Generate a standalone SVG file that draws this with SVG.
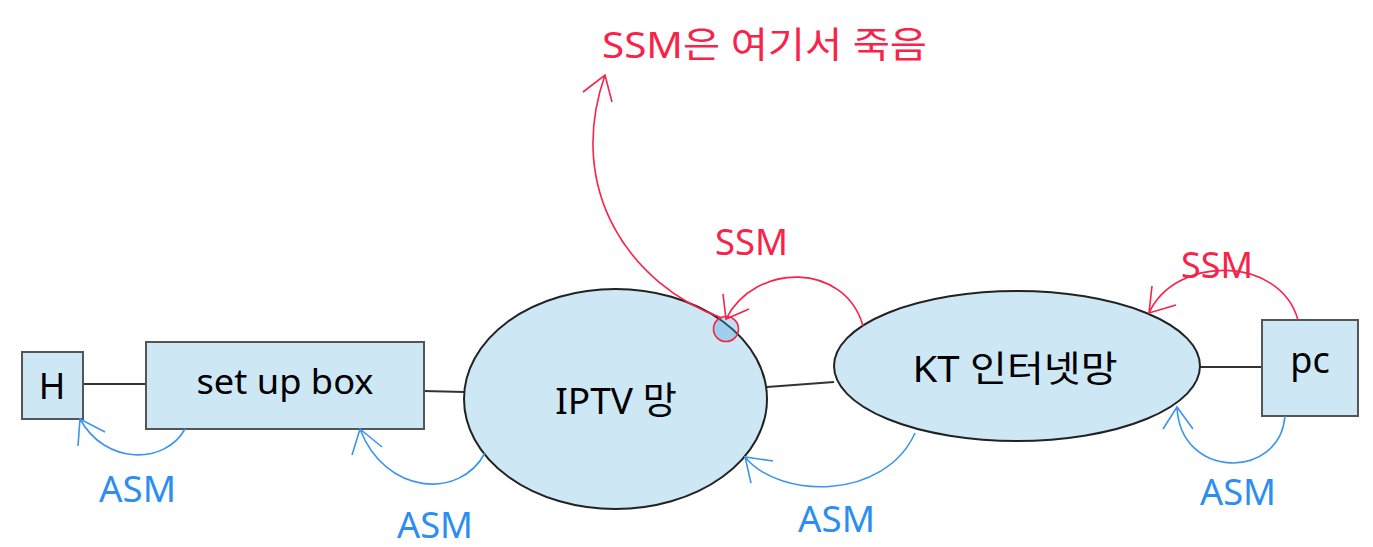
<svg xmlns="http://www.w3.org/2000/svg" width="1373" height="547" viewBox="0 0 1373 547">
<style>
.box{fill:#cde7f5;stroke:#555;stroke-width:2}
.ell{fill:#cde7f5;stroke:#222;stroke-width:2}
.link{stroke:#333;stroke-width:2;fill:none}
.lbl{font-family:"Noto Sans","Noto Sans CJK KR",sans-serif;fill:#000;text-anchor:middle}
.red{stroke:#f72348;stroke-width:1.6;fill:none}
.blue{stroke:#3b95f0;stroke-width:1.6;fill:none}
.rt{font-family:"Noto Sans","Noto Sans CJK KR",sans-serif;fill:#f72348;font-size:36px}
.bt{font-family:"Noto Sans","Noto Sans CJK KR",sans-serif;fill:#2b8ef0;font-size:37px}
</style>
<rect width="1373" height="547" fill="#fff"/>
<g id="connectors">
<line class="link" x1="83" y1="384" x2="146" y2="384"/>
<line class="link" x1="424" y1="391" x2="465" y2="392"/>
<line class="link" x1="767" y1="387" x2="834" y2="382"/>
<line class="link" x1="1200" y1="367" x2="1262" y2="367"/>
</g>
<g id="node-h"><rect class="box" x="22" y="352" width="61" height="67"/><text class="lbl" x="52" y="399" font-size="36">H</text></g>
<g id="node-setupbox"><rect class="box" x="146" y="342" width="278" height="87"/><text class="lbl" x="285" y="394" font-size="34" textLength="177" lengthAdjust="spacingAndGlyphs">set up box</text></g>
<g id="node-iptv"><ellipse class="ell" cx="615.5" cy="399" rx="151.5" ry="110"/><text class="lbl" x="616" y="414" font-size="37">IPTV 망</text></g>
<g id="node-kt"><ellipse class="ell" cx="1017" cy="366" rx="183" ry="75"/><text class="lbl" x="1015" y="382" font-size="36" textLength="205" lengthAdjust="spacingAndGlyphs">KT 인터넷망</text></g>
<g id="node-pc"><rect class="box" x="1262" y="320" width="96" height="96"/><text class="lbl" x="1310" y="373" font-size="36">pc</text></g>
<g id="death-point"><circle cx="726" cy="329" r="12.5" fill="#4aa2da" fill-opacity="0.35" stroke="#f72348" stroke-width="1.6"/></g>
<g id="annotations">
<path class="blue" d="M185,429 C165,465 105,465 80,419 M78,446 L80,419 L105,432"/>
<path class="blue" d="M485,453 C460,500 385,495 360,429 M352,455 L360,429 L382,447"/>
<path class="blue" d="M915,433 C885,500 780,500 745,457 M773,461 L745,457 L751,483"/>
<path class="blue" d="M1285,416 C1280,480 1180,480 1177,407 M1163,429 L1177,407 L1193,429"/>
<path class="red" d="M1298,320 C1280,255 1175,255 1149,313 M1152,286 L1149,313 L1176,305"/>
<path class="red" d="M863,326 C845,262 755,262 726,319 M723,294 L726,319 L749,309"/>
<path class="red" d="M722,318 C630,285 565,190 605,75 M583,92 L605,75 L612,102"/>
<text class="rt" x="602" y="58" textLength="325" lengthAdjust="spacingAndGlyphs">SSM은 여기서 죽음</text>
<text class="rt" x="715" y="255" textLength="73" lengthAdjust="spacingAndGlyphs">SSM</text>
<text class="rt" x="1181" y="278" textLength="72" lengthAdjust="spacingAndGlyphs">SSM</text>
<text class="bt" x="99" y="502" textLength="77" lengthAdjust="spacingAndGlyphs">ASM</text>
<text class="bt" x="397" y="538" textLength="76" lengthAdjust="spacingAndGlyphs">ASM</text>
<text class="bt" x="798" y="532" textLength="77" lengthAdjust="spacingAndGlyphs">ASM</text>
<text class="bt" x="1200" y="505" textLength="76" lengthAdjust="spacingAndGlyphs">ASM</text>
</g>
</svg>
